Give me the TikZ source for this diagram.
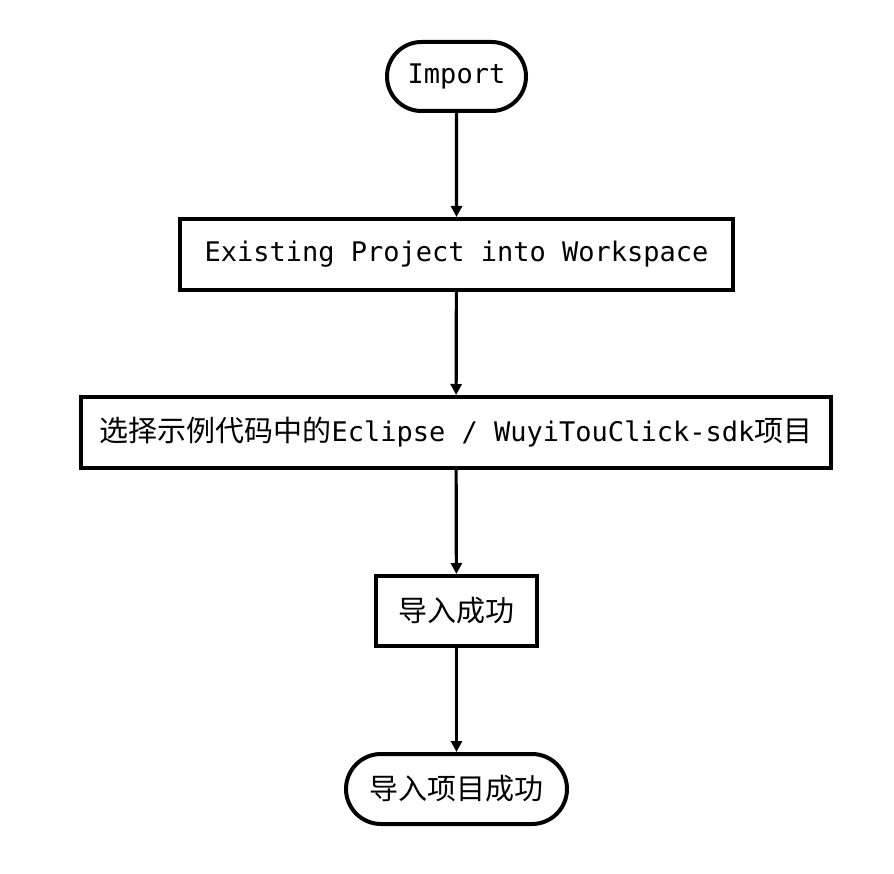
\documentclass[tikz,border=0pt]{standalone}
\usepackage{fontspec}
\setmonofont{DejaVu Sans Mono}
\newfontfamily\cjk{Noto Sans CJK SC}
\usetikzlibrary{arrows.meta,shapes.misc}
\tikzset{
  base/.style={draw=black, line width=4pt, inner sep=0pt, align=center, font=\fontsize{27}{32}\selectfont\ttfamily},
  term/.style={base, rounded rectangle},
  proc/.style={base, rectangle},
  flow/.style={line width=3.2pt, -{Triangle[length=11pt,width=11pt]}}
}
\begin{document}
\begin{tikzpicture}[x=1pt,y=-1pt]
\useasboundingbox[fill=white] (0,0) rectangle (894,874);
\node[term, minimum width=139pt, minimum height=69pt] (imp) at (456.5,76.5) {Import};
\node[proc, minimum width=553pt, minimum height=71pt] (exist) at (456.5,254.5) {Existing Project into Workspace};
\node[proc, minimum width=750pt, minimum height=71pt] (sel) at (456,432.5) {{\cjk\fontsize{29}{32}\selectfont 选择示例代码中的}Eclipse / WuyiTouClick-sdk{\cjk\fontsize{29}{32}\selectfont 项目}};
\node[proc, minimum width=161pt, minimum height=70pt, font=\cjk\fontsize{29}{32}\selectfont] (ok) at (456.5,611) {导入成功};
\node[term, minimum width=221pt, minimum height=70pt, font=\cjk\fontsize{29}{32}\selectfont] (done) at (456.5,789) {导入项目成功};
\draw[flow] (imp) -- (exist);
\draw[flow] (exist) -- (sel);
\draw[flow] (sel) -- (ok);
\draw[flow] (ok) -- (done);
\end{tikzpicture}
\end{document}
